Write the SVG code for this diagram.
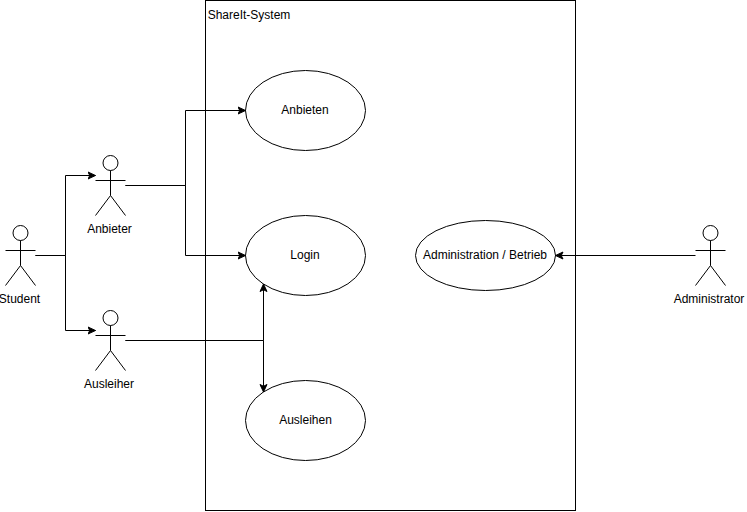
<svg xmlns="http://www.w3.org/2000/svg" width="747" height="512" viewBox="0 0 747 512">
<style>
text{font-family:"Helvetica","Liberation Sans",Arial,sans-serif;font-size:12px;fill:#000;text-anchor:middle}
.s{fill:#fff;stroke:#000;stroke-width:1}
.l{fill:none;stroke:#000;stroke-width:1}
</style>
<defs>
<marker id="a" markerUnits="userSpaceOnUse" markerWidth="10" markerHeight="10" refX="8" refY="5" orient="auto"><path d="M0.500 1.500L8 5L0.500 8.500L2.250 5Z" fill="#000" stroke="#000" stroke-width="1"/></marker>
<g id="actor"><ellipse class="s" cx="15" cy="7.500" rx="7.500" ry="7.500"/><path class="l" d="M15 15V40M15 40L0 60M15 40L30 60M0 25H30"/></g>
</defs>
<rect width="747" height="512" fill="#fff"/>
<g id="system"><rect class="s" x="205.500" y="0.500" width="370" height="510"/><text x="249" y="19">ShareIt-System</text></g>
<g id="anbieten"><ellipse class="s" cx="305.500" cy="110.500" rx="60" ry="40"/><text x="305" y="114">Anbieten</text></g>
<g id="login"><ellipse class="s" cx="305.500" cy="255.500" rx="60" ry="40"/><text x="305" y="259">Login</text></g>
<g id="ausleihen"><ellipse class="s" cx="305.500" cy="420.500" rx="60" ry="40"/><text x="305.500" y="424">Ausleihen</text></g>
<g id="admin-betrieb"><ellipse class="s" cx="485.500" cy="255.500" rx="70" ry="35"/><text x="485" y="259">Administration / Betrieb</text></g>
<g id="student"><use href="#actor" x="5.500" y="225.500"/><text x="19.500" y="303">Student</text></g>
<g id="anbieter"><use href="#actor" x="95.500" y="155.500"/><text x="109.500" y="233">Anbieter</text></g>
<g id="ausleiher"><use href="#actor" x="95.500" y="310.500"/><text x="109" y="388">Ausleiher</text></g>
<g id="administrator"><use href="#actor" x="695.500" y="225.500"/><text x="709" y="303">Administrator</text></g>
<g id="connectors">
<path class="l" marker-end="url(#a)" d="M35.500 255.500H65.500V175.500H95.500"/>
<path class="l" marker-end="url(#a)" d="M35.500 255.500H65.500V330.500H95.500"/>
<path class="l" marker-end="url(#a)" d="M125.500 185.500H185.500V110.500H245.500"/>
<path class="l" marker-end="url(#a)" d="M125.500 185.500H185.500V255.500H245.500"/>
<path class="l" marker-end="url(#a)" d="M125.500 340.500H263.500V284"/>
<path class="l" marker-end="url(#a)" d="M125.500 340.500H263.500V392"/>
<path class="l" marker-end="url(#a)" d="M695.500 255.500H555.500"/>
</g>
</svg>
